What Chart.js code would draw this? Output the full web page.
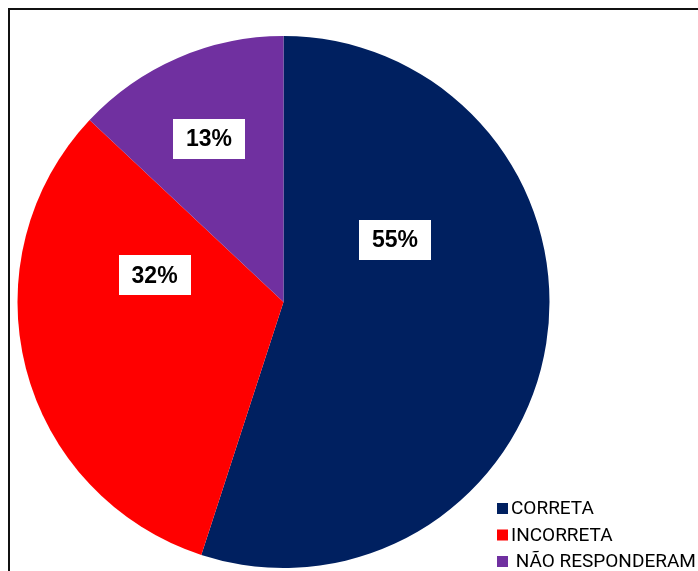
<!DOCTYPE html>
<html lang="pt">
<head>
    <meta charset="UTF-8">
    <title>Respostas</title>
    <script src="https://cdn.jsdelivr.net/npm/chart.js"></script>
    <style>
        html, body {
            margin: 0;
            padding: 0;
            overflow: hidden;
            background: #fff;
        }
        #frame {
            position: absolute;
            left: 8px;
            top: 8px;
            width: 800px;
            height: 700px;
            border: 2px solid #111;
        }
        #chartContainer {
            position: absolute;
            left: 0;
            top: 0;
            width: 698px;
            height: 571px;
        }
    </style>
</head>
<body>
    <div id="frame"></div>
    <div id="chartContainer">
        <canvas id="pieChart" width="698" height="571"></canvas>
    </div>
    <script>
        const categories = ['CORRETA', 'INCORRETA', 'NÃO RESPONDERAM'];
        const percentages = [55, 32, 13];
        const sliceColors = ['#002060', '#FF0000', '#7030A0'];

        // where each value box sits inside its slice: [fraction of the sweep, fraction of the radius]
        const labelPlacement = [[0.307, 0.48], [0.727, 0.495], [0.476, 0.675]];

        // white boxes with the percentage inside each slice
        const valueBoxes = {
            id: 'valueBoxes',
            afterDatasetsDraw(chart) {
                const ctx = chart.ctx;
                const arcs = chart.getDatasetMeta(0).data;
                ctx.save();
                ctx.font = 'bold 23px "Liberation Sans", Arial, sans-serif';
                ctx.textAlign = 'center';
                ctx.textBaseline = 'middle';
                arcs.forEach((arc, i) => {
                    const p = arc.getProps(['x', 'y', 'startAngle', 'endAngle', 'outerRadius'], true);
                    const [f, rf] = labelPlacement[i];
                    const a = p.startAngle + (p.endAngle - p.startAngle) * f;
                    const x = p.x + Math.cos(a) * p.outerRadius * rf;
                    const y = p.y + Math.sin(a) * p.outerRadius * rf;
                    const text = percentages[i] + '%';
                    const w = ctx.measureText(text).width + 26;
                    const h = 40;
                    ctx.fillStyle = '#fff';
                    ctx.fillRect(Math.round(x - w / 2), Math.round(y - h / 2), Math.round(w), h);
                    ctx.fillStyle = '#000';
                    ctx.fillText(text, x, y + 1);
                });
                ctx.restore();
            }
        };

        // legend in the lower right corner, one row per category
        const cornerLegend = {
            id: 'cornerLegend',
            afterDraw(chart) {
                const ctx = chart.ctx;
                ctx.save();
                ctx.font = '19px Roboto, "Liberation Sans", sans-serif';
                ctx.textBaseline = 'alphabetic';
                ctx.textAlign = 'left';
                categories.forEach((name, i) => {
                    const baseline = 514 + i * 26.5;
                    ctx.fillStyle = sliceColors[i];
                    ctx.fillRect(497, baseline - 11, 11, 11);
                    ctx.fillStyle = '#000';
                    const label = i === 2 ? ' ' + name : name;
                    ctx.fillText(label, 511, baseline);
                });
                ctx.restore();
            }
        };

        new Chart(document.getElementById('pieChart').getContext('2d'), {
            type: 'pie',
            data: {
                labels: categories,
                datasets: [{
                    data: percentages,
                    backgroundColor: sliceColors,
                    borderWidth: 0,
                    hoverOffset: 0
                }]
            },
            options: {
                responsive: false,
                animation: false,
                layout: {
                    padding: { left: 17, top: 36, right: 148, bottom: 3 }
                },
                plugins: {
                    legend: { display: false },
                    tooltip: { enabled: false }
                }
            },
            plugins: [valueBoxes, cornerLegend]
        });
    </script>
</body>
</html>
